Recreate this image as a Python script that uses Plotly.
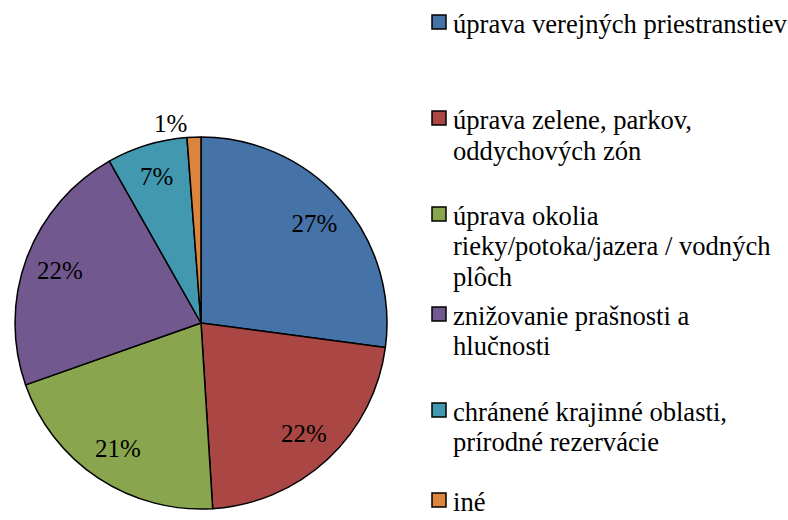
import plotly.graph_objects as go

# ---- data ----
legend_lines = [
    ["úprava verejných priestranstiev"],
    ["úprava zelene, parkov,", "oddychových zón"],
    ["úprava okolia", "rieky/potoka/jazera / vodných", "plôch"],
    ["znižovanie prašnosti a", "hlučnosti"],
    ["chránené krajinné oblasti,", "prírodné rezervácie"],
    ["iné"],
]
categories = [" ".join(l) for l in legend_lines]
values = [27.1, 21.9, 20.6, 22.2, 7.0, 1.2]

# ---- styles ----
colors = ["#4572A7", "#AA4643", "#89A54E", "#71588F", "#4198AF", "#DB843D"]
FONT = "Liberation Serif"
W, H = 788, 520
cx, cy, R = 201, 323, 186

dom_x = [(cx - R) / W, (cx + R) / W]
dom_y = [(H - cy - R) / H, (H - cy + R) / H]

fig = go.Figure()
# filled pie
fig.add_trace(go.Pie(
    labels=categories, values=values, sort=False, direction="clockwise", rotation=0,
    marker=dict(colors=colors, line=dict(color="black", width=1.5)),
    textinfo="none", hoverinfo="label+percent", showlegend=False,
    domain=dict(x=dom_x, y=dom_y),
))
# label ring (transparent) so percentages sit near the rim
fig.add_trace(go.Pie(
    labels=categories, values=values, sort=False, direction="clockwise", rotation=0,
    hole=0.62,
    marker=dict(colors=["rgba(0,0,0,0)"] * len(values), line=dict(width=0)),
    texttemplate="%{percent:.0%}",
    textposition=["inside"] * (len(values) - 1) + ["outside"],
    insidetextorientation="horizontal",
    textfont=dict(family=FONT, size=25, color="black"),
    hoverinfo="skip", showlegend=False,
    domain=dict(x=dom_x, y=dom_y),
))

# manual legend (layout positions)
legend_line_y = [[24], [120, 151], [216, 246, 277], [316, 346], [412, 442], [502]]
shapes, annotations = [], []
for i, lines in enumerate(legend_lines):
    ys = legend_line_y[i]
    my = ys[0] - 2
    shapes.append(dict(type="rect", xref="paper", yref="paper",
                       x0=432 / W, x1=446 / W, y0=1 - (my + 7) / H, y1=1 - (my - 7) / H,
                       fillcolor=colors[i], line=dict(color="black", width=1.5)))
    for t, y in zip(lines, ys):
        annotations.append(dict(text=t, xref="paper", yref="paper", x=451 / W, y=1 - y / H,
                                xanchor="left", yanchor="middle", showarrow=False,
                                font=dict(family=FONT, size=26.6, color="black")))

fig.update_layout(
    width=W, height=H, margin=dict(l=0, r=0, t=0, b=0),
    paper_bgcolor="white", plot_bgcolor="white",
    font=dict(family=FONT),
    shapes=shapes, annotations=annotations, showlegend=False,
)
fig.write_html(
    "out.html",
    config={"displayModeBar": False},
    post_script="document.body.style.margin='0';document.body.style.overflow='hidden';",
)
